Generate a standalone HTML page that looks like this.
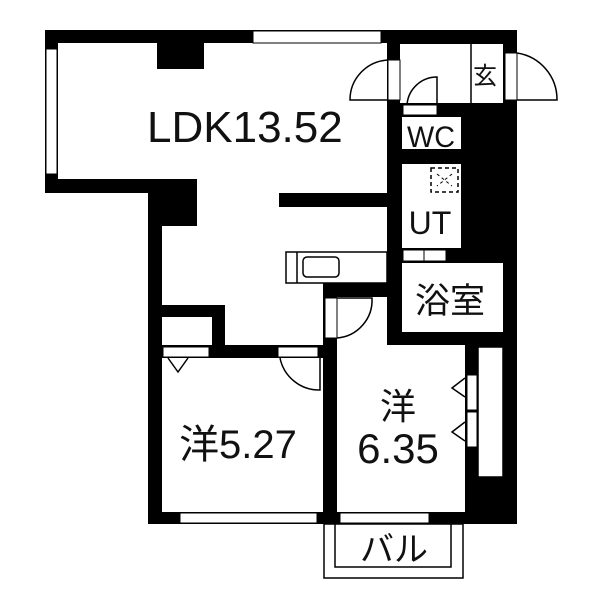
<!DOCTYPE html>
<html><head><meta charset="utf-8"><style>
html,body{margin:0;padding:0;background:#fff}
svg{display:block}
text{font-family:"Liberation Sans","Noto Sans CJK JP",sans-serif;fill:#111}
</style></head><body>
<svg width="600" height="600" viewBox="0 0 600 600" xmlns="http://www.w3.org/2000/svg">
<polygon points="45,30 517,30 517,524 148,524 148,193 45,193" fill="#000"/>
<polygon points="58,43 387,43 387,283 323,283 323,345 225,345 225,305 162,305 162,226 197,226 197,179 58,179" fill="#fff"/>
<rect x="157" y="43" width="47" height="26" fill="#000"/>
<rect x="279" y="193" width="108" height="14" fill="#000"/>
<rect x="162" y="317" width="50" height="28" fill="#fff"/>
<rect x="162" y="358" width="161" height="154" fill="#fff"/>
<polygon points="337,297 387,297 387,345 465,345 465,512 337,512" fill="#fff"/>
<rect x="478" y="347" width="25" height="130" fill="#fff" stroke="#000" stroke-width="1.5"/>
<rect x="400" y="44" width="103" height="59" fill="#fff"/>
<line x1="471" y1="44" x2="471" y2="103" stroke="#000" stroke-width="1.5"/>
<rect x="402" y="117" width="59" height="32" fill="#fff"/>
<rect x="402" y="164" width="59" height="84" fill="#fff"/>
<rect x="402" y="263" width="101" height="69" fill="#fff"/>
<rect x="403" y="250" width="21" height="11" fill="#fff" stroke="#000" stroke-width="1"/>
<rect x="424" y="250" width="22" height="11" fill="#fff" stroke="#000" stroke-width="1"/>
<rect x="431" y="168" width="27" height="24" fill="none" stroke="#000" stroke-width="1.5" stroke-dasharray="4,3"/>
<path d="M437,174 L452,186 M452,174 L437,186" stroke="#000" stroke-width="1" stroke-dasharray="3,3"/>
<rect x="253" y="31" width="128" height="12" fill="#fff" stroke="#000" stroke-width="1"/>
<rect x="46" y="49" width="11" height="125" fill="#fff" stroke="#000" stroke-width="1"/>
<rect x="180" y="513" width="137" height="10" fill="#fff" stroke="#000" stroke-width="1"/>
<rect x="340" y="513" width="89" height="10" fill="#fff" stroke="#000" stroke-width="1"/>
<rect x="324" y="524" width="139" height="54" fill="#fff" stroke="#000" stroke-width="1.5"/>
<rect x="335" y="524" width="116" height="43" fill="#fff" stroke="#000" stroke-width="1.5"/>
<rect x="505" y="53" width="12" height="47" fill="#fff" stroke="#000" stroke-width="1"/>
<path d="M517,53 A47,47 0 0 1 557,100 L517,100" fill="none" stroke="#000" stroke-width="1.5"/>
<rect x="388" y="60" width="12" height="40" fill="#fff" stroke="#000" stroke-width="1"/>
<path d="M388,60 A40,40 0 0 0 350,100 L388,100" fill="none" stroke="#000" stroke-width="1.5"/>
<rect x="403" y="105" width="34" height="10" fill="#fff" stroke="#000" stroke-width="1"/>
<path d="M437,105 L437,77 A30,30 0 0 0 407,105" fill="none" stroke="#000" stroke-width="1.5"/>
<rect x="286" y="252" width="101" height="31" fill="#fff" stroke="#000" stroke-width="1.5"/>
<line x1="297" y1="252" x2="297" y2="283" stroke="#000" stroke-width="1.5"/>
<rect x="303" y="257" width="36" height="20" rx="4" fill="#fff" stroke="#000" stroke-width="1.5"/>
<rect x="323" y="283" width="64" height="14" fill="#000"/>
<rect x="325" y="298" width="12" height="40" fill="#fff" stroke="#000" stroke-width="1"/>
<path d="M337,338 A38,38 0 0 0 372,298 L337,298" fill="none" stroke="#000" stroke-width="1.5"/>
<rect x="163" y="347" width="46" height="10" fill="#fff" stroke="#000" stroke-width="1"/>
<path d="M168,358 L178,372 L188,358" fill="none" stroke="#000" stroke-width="1.5"/>
<rect x="278" y="347" width="40" height="10" fill="#fff" stroke="#000" stroke-width="1"/>
<path d="M280,358 A40,40 0 0 0 320,390 L320,358" fill="none" stroke="#000" stroke-width="1.5"/>
<rect x="467" y="375" width="10" height="35" fill="#fff" stroke="#000" stroke-width="1"/>
<rect x="467" y="412" width="10" height="35" fill="#fff" stroke="#000" stroke-width="1"/>
<path d="M465,378 L452,388 L465,397" fill="none" stroke="#000" stroke-width="1.5"/>
<path d="M465,422 L452,432 L465,441" fill="none" stroke="#000" stroke-width="1.5"/>
<text x="147" y="142" font-size="44">LDK13.52</text>
<text x="485" y="84" font-size="24" text-anchor="middle">玄</text>
<text x="431" y="147" font-size="30" text-anchor="middle" textLength="48" lengthAdjust="spacingAndGlyphs">WC</text>
<text x="430" y="234" font-size="32" text-anchor="middle">UT</text>
<text x="450" y="313" font-size="35" text-anchor="middle">浴室</text>
<text x="238" y="458" font-size="40" text-anchor="middle">洋5.27</text>
<text x="398" y="419" font-size="36" text-anchor="middle">洋</text>
<text x="398" y="463" font-size="42" text-anchor="middle">6.35</text>
<text x="394" y="561" font-size="34" text-anchor="middle">バル</text>
</svg>
</body></html>
